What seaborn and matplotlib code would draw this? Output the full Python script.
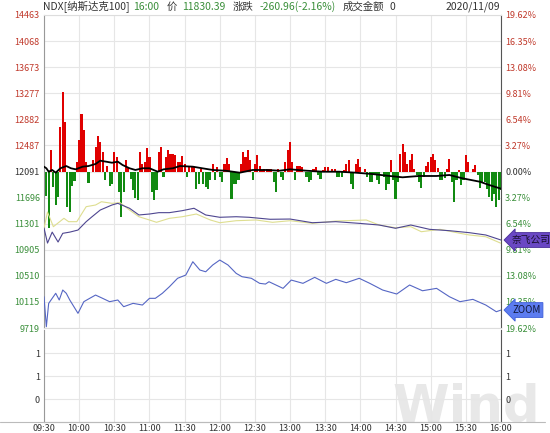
import numpy as np
import pandas as pd
import matplotlib
matplotlib.use("Agg")
import matplotlib.pyplot as plt
from matplotlib.lines import Line2D
import seaborn as sns

sns.set_style("white")
plt.rcParams['font.family'] = ['Noto Sans CJK SC', 'DejaVu Sans']
plt.rcParams['axes.unicode_minus'] = False

# ---------------- data ----------------
prev_close = 12091
time_labels = ["09:30", "10:00", "10:30", "11:00", "11:30", "12:00", "12:30",
               "13:00", "13:30", "14:00", "14:30", "15:00", "15:30", "16:00"]
price_ticks = [9719, 10115, 10510, 10905, 11301, 11696, 12091,
               12487, 12882, 13277, 13673, 14068, 14463]
pct_labels = ["19.62%", "16.35%", "13.08%", "9.81%", "6.54%", "3.27%", "0.00%",
              "3.27%", "6.54%", "9.81%", "13.08%", "16.35%", "19.62%"]
pct_limit = 19.62

# NDX index (minutes after 09:30)
ndx_t = [0, 2, 4, 7, 10, 14, 19, 23, 27, 33, 38, 44, 48, 53, 58, 63, 67, 73, 78, 84,
         90, 97, 102, 110, 116, 127, 135, 144, 155, 167, 178, 190, 201, 210, 224,
         238, 252, 266, 280, 295, 306, 320, 335, 346, 357, 372, 380, 390]
ndx_v = [12164, 12140, 12088, 12114, 12073, 12140, 12174, 12140, 12124, 12164,
         12174, 12205, 12255, 12240, 12224, 12240, 12190, 12140, 12114, 12140,
         12140, 12088, 12124, 12140, 12174, 12164, 12140, 12114, 12103, 12073,
         12114, 12114, 12103, 12124, 12103, 12088, 12088, 12073, 12053, 12023,
         12003, 12023, 12023, 12038, 11988, 11936, 11886, 11830.39]

# red/green indicator bars, every 2 minutes from 09:30
bar_t = list(range(0, 391, 2))
bar_v = [-11, -24, -56, 22, -15, -33, -25, 45, 80, 50,
         -35, -40, -14, -9, 10, 32, 58, 42, 10, -11,
         0, 12, 25, 36, 30, 20, -8, 6, -14, -12,
         20, 15, -20, -45, -20, 12, 5, -7, -18, -26,
         -28, 20, 8, 10, 24, 15, -20, -28, -18, 20,
         25, -5, 15, 22, 18, 18, 17, 10, 10, 16,
         8, -5, 6, 6, 5, -17, -12, 3, -12, -15,
         -17, -8, 8, -8, 5, -5, -10, 8, 14, 8,
         -27, -12, -12, -8, 8, 20, 15, 22, 12, -8,
         8, 17, 6, 2, 3, 3, 3, 3, -10, -20,
         3, -5, -8, 10, 22, 30, 10, -8, 6, 6,
         5, 0, -5, -10, -8, 3, 5, -3, -7, 2,
         5, 5, 0, 3, 3, -5, -5, -5, 2, 8,
         12, -12, -17, 8, 13, 5, 0, 3, -5, -10,
         -10, -3, -8, -12, 0, -5, -18, -12, 12, -8,
         -27, -10, 18, 28, 20, 8, 12, 18, 3, -3,
         -10, -16, -5, 6, 10, 15, 18, 12, 4, -8,
         -8, -6, 3, 13, -10, -30, -8, 2, -13, -8,
         17, 10, 0, 3, 7, -3, -16, -10, -10, -17,
         -25, -29, -22, -35, -28, -18]
bar_limit = 156.5

# Netflix (% change)
nflx_t = [0, 3, 7, 12, 16, 22, 29, 36, 41, 48, 58, 63, 73, 81, 90, 98, 107, 118,
          128, 138, 150, 164, 175, 193, 210, 229, 249, 269, 286, 300, 313, 329,
          346, 363, 377, 390]
nflx_v = [-7.09, -8.97, -7.6, -8.84, -7.75, -7.6, -7.34, -6.29, -5.67, -4.83,
          -4.20, -3.99, -4.61, -5.45, -5.33, -5.16, -5.16, -4.91, -4.61, -5.45,
          -5.74, -5.67, -5.74, -5.99, -5.96, -6.42, -6.29, -6.50, -6.71, -7.12,
          -6.71, -7.25, -7.42, -7.67, -7.96, -8.59]
# Netflix average line (% change)
avg_t = [0, 3, 8, 17, 21, 28, 36, 44, 49, 58, 65, 73, 81, 90, 96, 107, 118, 130,
         142, 150, 164, 181, 195, 210, 229, 249, 275, 286, 300, 313, 322, 338,
         355, 363, 377, 390]
avg_v = [-7.1, -5.08, -6.92, -5.87, -6.29, -6.29, -4.41, -4.20, -3.79, -3.99,
         -3.91, -4.83, -5.67, -6.08, -6.37, -5.87, -5.67, -5.33, -6.08, -6.42,
         -6.17, -6.08, -6.37, -6.17, -6.50, -6.21, -6.08, -6.71, -7.05, -6.92,
         -7.55, -7.25, -7.75, -7.96, -8.18, -9.00]
# ZOOM (% change)
zoom_t = [0, 2, 4, 10, 13, 16, 19, 22, 29, 34, 39, 44, 50, 56, 63, 68, 76, 84, 90,
          95, 101, 107, 114, 121, 127, 133, 138, 144, 150, 157, 164, 169, 177, 184,
          189, 192, 204, 211, 221, 231, 241, 249, 258, 269, 278, 289, 301, 312,
          323, 335, 346, 355, 366, 377, 386, 390]
zoom_v = [-15.70, -19.46, -16.53, -15.27, -16.11, -14.86, -15.27, -16.11, -17.78,
          -16.32, -15.90, -15.49, -15.90, -16.32, -16.11, -16.95, -16.53, -16.74,
          -15.90, -15.90, -15.27, -14.45, -13.39, -12.98, -11.31, -12.35, -12.57,
          -11.72, -11.10, -11.72, -12.77, -13.19, -13.39, -14.02, -14.11, -13.82,
          -14.65, -13.61, -14.02, -13.27, -14.02, -13.52, -13.94, -13.39, -14.02,
          -14.86, -15.36, -14.23, -14.95, -14.65, -15.70, -16.32, -16.03, -16.74,
          -17.58, -17.37]

vol_ticks = [0, 0.6, 1.2]
vol_labels = ["0", "1", "1"]

# ---------------- style ----------------
RED = "#c0392b"
GREEN = "#3a8f3a"
DARK = "#333333"
GRID = "#e6e6e6"
FS = 6.5

W_PX, H_PX = 550, 433
fig = plt.figure(figsize=(W_PX / 100, H_PX / 100), dpi=100)
left = 44 / W_PX
width = 457 / W_PX
main_top, main_bot = 15, 328
vol_top, vol_bot = 330, 422

# watermark (behind the lower panel)
fig.text(392 / W_PX, 1 - vol_bot / H_PX + 0.002, "Wind", fontsize=37, color="#e8e8e8",
         family="DejaVu Sans", weight="bold", ha="left", va="baseline", zorder=-1)

ax_bar = fig.add_axes([left, 1 - main_bot / H_PX, width, (main_bot - main_top) / H_PX])
ax_px = ax_bar.twinx()
ax_pct = ax_bar.twinx()
ax_vol = fig.add_axes([left, 1 - vol_bot / H_PX, width, (vol_bot - vol_top) / H_PX])
ax_vol.set_facecolor("none")

xt = np.arange(0, 391, 30)

# bars
bar_df = pd.DataFrame({"t": bar_t, "v": bar_v})
bar_cols = [("#e00000" if v > 0 else "#118a11") for v in bar_df["v"]]
ax_bar.bar(bar_df["t"], bar_df["v"], width=1.8, color=bar_cols, linewidth=0, zorder=2)
ax_bar.set_ylim(-bar_limit, bar_limit)
ax_bar.set_yticks(np.linspace(-bar_limit, bar_limit, 13))
ax_bar.set_xticks(xt)
ax_bar.grid(True, color=GRID, lw=0.8)
ax_bar.tick_params(left=False, right=False, bottom=False, labelleft=False,
                   labelright=False, labelbottom=False)
ax_bar.set_xlim(0, 390)
for s, c in [("left", "#999999"), ("right", "#555555"), ("top", "#dddddd"), ("bottom", "#dddddd")]:
    ax_bar.spines[s].set_color(c)
    ax_bar.spines[s].set_linewidth(0.8)

# NDX line
ndx_df = pd.DataFrame({"t": ndx_t, "v": ndx_v})
sns.lineplot(data=ndx_df, x="t", y="v", ax=ax_px, color="black", lw=1.3)
ax_px.set_ylim(price_ticks[0], price_ticks[-1])
ax_px.yaxis.tick_left()
ax_px.set_yticks(price_ticks)
ax_px.set_yticklabels([str(p) for p in price_ticks], fontsize=FS)
for lab, p in zip(ax_px.get_yticklabels(), price_ticks):
    lab.set_color(RED if p > prev_close else (DARK if p == prev_close else GREEN))
ax_px.tick_params(axis="y", length=0, pad=3)
ax_px.set_xlabel("")
ax_px.set_ylabel("")
for s in ax_px.spines.values():
    s.set_visible(False)

# comparison lines
sns.lineplot(x=avg_t, y=avg_v, ax=ax_pct, color="#dede90", lw=0.8)
sns.lineplot(x=nflx_t, y=nflx_v, ax=ax_pct, color="#4e4690", lw=0.8)
sns.lineplot(x=zoom_t, y=zoom_v, ax=ax_pct, color="#5566c4", lw=0.8)
ax_pct.set_ylim(-pct_limit, pct_limit)
pct_pos = np.linspace(pct_limit, -pct_limit, 13)
ax_pct.set_yticks(pct_pos)
ax_pct.set_yticklabels(pct_labels, fontsize=FS)
for lab, p in zip(ax_pct.get_yticklabels(), pct_pos):
    lab.set_color(RED if p > 0.01 else (DARK if abs(p) < 0.01 else GREEN))
ax_pct.tick_params(axis="y", length=0, pad=3)
ax_pct.set_xlabel("")
ax_pct.set_ylabel("")
ax_pct.set_xlim(0, 390)
for s in ax_pct.spines.values():
    s.set_visible(False)

# tags
ax_pct.annotate("奈飞公司", xy=(390, nflx_v[-1]), xytext=(8, 0), textcoords="offset points",
                ha="left", va="center", fontsize=7, color="#1a1030",
                bbox=dict(boxstyle="larrow,pad=0.25", fc="#6a48c4", ec="#4a2f99", lw=0.6),
                annotation_clip=False, zorder=10)
ax_pct.annotate("ZOOM", xy=(390, zoom_v[-1]), xytext=(8, 0), textcoords="offset points",
                ha="left", va="center", fontsize=7, color="#10183a",
                bbox=dict(boxstyle="larrow,pad=0.25", fc="#5c7cf0", ec="#3f5fd8", lw=0.6),
                annotation_clip=False, zorder=10)

# volume panel
ax_vol.set_xlim(0, 390)
ax_vol.set_ylim(-0.587, 1.813)
ax_vol.set_yticks(vol_ticks)
ax_vol.set_yticklabels(vol_labels, fontsize=FS, color=DARK)
ax_vol.set_xticks(xt)
ax_vol.set_xticklabels(time_labels, fontsize=FS, color=DARK)
ax_vol.tick_params(axis="y", length=0, pad=3, labelleft=True, labelright=True)
ax_vol.tick_params(axis="x", length=0, pad=1.5)
ax_vol.grid(True, color=GRID, lw=0.8)
for s, c in [("left", "#999999"), ("right", "#555555"), ("top", "#dddddd"), ("bottom", "#bbbbbb")]:
    ax_vol.spines[s].set_color(c)
    ax_vol.spines[s].set_linewidth(0.8)
ax_vol.spines["top"].set_visible(False)

# full-width base line
fig.add_artist(Line2D([0, 545 / W_PX], [1 - vol_bot / H_PX] * 2, color="#bbbbbb", lw=0.8))

# header
hy = 1 - 7 / H_PX
header = [("NDX[纳斯达克100]", 43, DARK), ("16:00", 133, GREEN), ("价", 167, DARK),
          ("11830.39", 182.5, GREEN), ("涨跌", 233, DARK), ("-260.96(-2.16%)", 260, GREEN),
          ("成交金额", 343, DARK), ("0", 390, DARK)]
for txt, x, c in header:
    fig.text(x / W_PX, hy, txt, fontsize=7.5, color=c, ha="left", va="center")
fig.text(500 / W_PX, hy, "2020/11/09", fontsize=7.5, color=DARK, ha="right", va="center")

fig.savefig("out.png", dpi=100)
